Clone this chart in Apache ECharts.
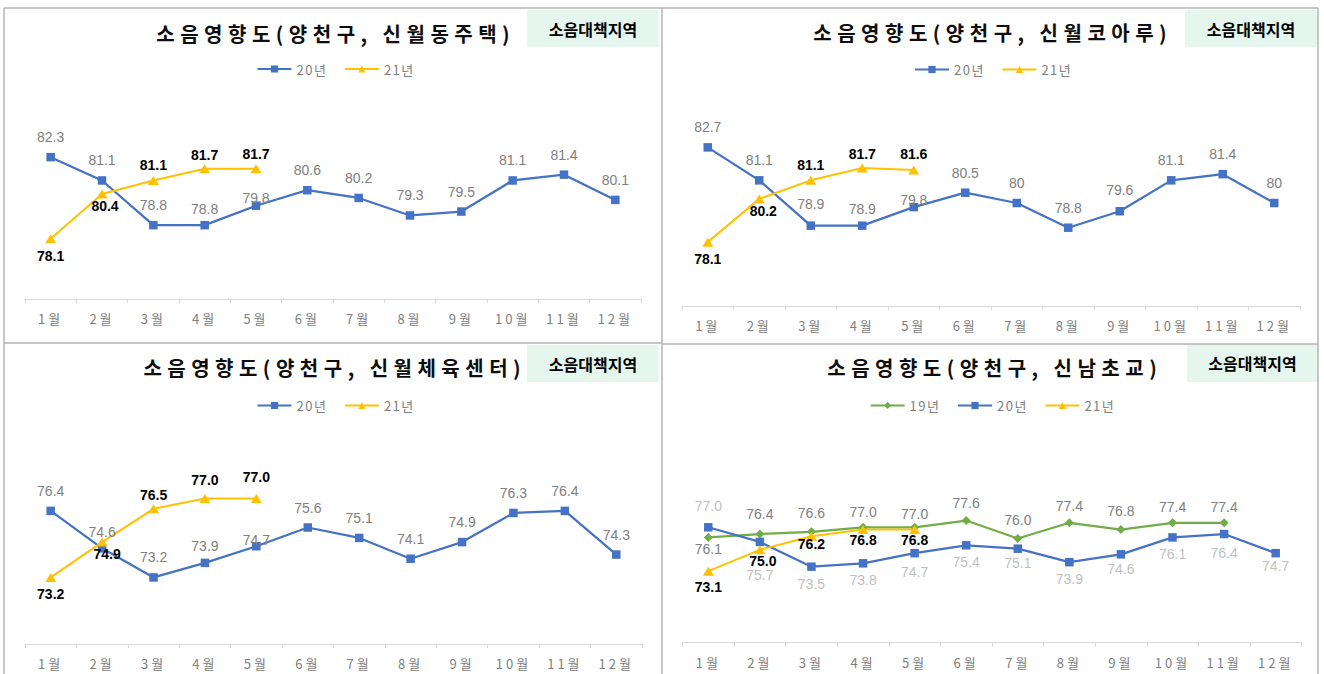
<!DOCTYPE html>
<html>
<head>
<meta charset="utf-8">
<script src="https://cdn.jsdelivr.net/npm/echarts@6/dist/echarts.min.js"></script>
<style>
html,body{margin:0;padding:0;background:#ffffff;}
#c{width:1324px;height:674px;}
</style>
</head>
<body>
<div id="c"></div>
<script>
// ---------- data ----------
const months = ['1월','2월','3월','4월','5월','6월','7월','8월','9월','10월','11월','12월'];
const titles = ['소음영향도(양천구, 신월동주택)','소음영향도(양천구, 신월코아루)','소음영향도(양천구, 신월체육센터)','소음영향도(양천구, 신남초교)'];
const zoneTag = '소음대책지역';
const yearNames = ['19년','20년','21년'];

const sinwoldong20 = [82.3,81.1,78.8,78.8,79.8,80.6,80.2,79.3,79.5,81.1,81.4,80.1];
const sinwoldong21 = [78.1,80.4,81.1,81.7,81.7];
const koaru20 = [82.7,81.1,78.9,78.9,79.8,80.5,80,78.8,79.6,81.1,81.4,80];
const koaru21 = [78.1,80.2,81.1,81.7,81.6];
const gym20 = [76.4,74.6,73.2,73.9,74.7,75.6,75.1,74.1,74.9,76.3,76.4,74.3];
const gym21 = [73.2,74.9,76.5,77.0,77.0];
const school19 = [76.1,76.4,76.6,77.0,77.0,77.6,76.0,77.4,76.8,77.4,77.4];
const school20 = [77.0,75.7,73.5,73.8,74.7,75.4,75.1,73.9,74.6,76.1,76.4,74.7];
const school21 = [73.1,75.0,76.2,76.8,76.8];

// ---------- styles ----------
const FONT_KR = '"Noto Sans CJK KR", "Noto Sans", sans-serif';
const FONT_NUM = '"Liberation Sans", Arial, sans-serif';
const TITLE_SPACING = 5.5;
const lineStyles = {
  '19년': {color:'#70ad47', symbol:'diamond', size:[9,9], width:2.25},
  '20년': {color:'#4472c4', symbol:'rect', size:8.5, width:2.25},
  '21년': {color:'#ffc000', symbol:'triangle', size:[11,9], width:2}
};
const fmtRaw = p => String(p.value);
const fmt1 = p => Number(p.value).toFixed(1);

// label offsets (px, relative to point centre) – styling only
const panels = [
  {
    title: titles[0], tx: 333, ty: 23,
    box: {x:527, y:10, w:132, h:37},
    legend: {left:256.5, top:62.5, names:[yearNames[1], yearNames[2]]},
    grid: {left:25, top:104.7, width:616, height:194.3},
    y: [75, 85],
    series: [
      {name:yearNames[1], data:sinwoldong20, color:'#808080', bold:false, fmt:fmt1,
       dy:[-20,-20,-20,-16,-8,-20,-20,-20,-20,-20,-20,-20]},
      {name:yearNames[2], data:sinwoldong21, color:'#000000', bold:true, fmt:fmt1,
       dy:[17,12,-15,-14,-15], dx:[0,3,0,0,0]}
    ]
  },
  {
    title: titles[1], tx: 990, ty: 22,
    box: {x:1185, y:10, w:132, h:37},
    legend: {left:914, top:63, names:[yearNames[1], yearNames[2]]},
    grid: {left:682, top:100, width:618, height:206},
    y: [75, 85],
    series: [
      {name:yearNames[1], data:koaru20, color:'#808080', bold:false, fmt:fmtRaw,
       dy:[-20,-20,-22,-17,-7,-20,-20,-20,-21,-20,-20,-20]},
      {name:yearNames[2], data:koaru21, color:'#000000', bold:true, fmt:fmt1,
       dy:[17,12,-15,-14,-16], dx:[0,4,0,0,0]}
    ]
  },
  {
    title: titles[2], tx: 332, ty: 357.5,
    box: {x:527, y:345, w:132, h:37},
    legend: {left:256.5, top:399, names:[yearNames[1], yearNames[2]]},
    grid: {left:25, top:436, width:617, height:208},
    y: [70, 80],
    series: [
      {name:yearNames[1], data:gym20, color:'#808080', bold:false, fmt:fmt1,
       dy:[-20,-16,-20,-17,-6,-20,-20,-20,-20,-20,-20,-20]},
      {name:yearNames[2], data:gym21, color:'#000000', bold:true, fmt:fmt1,
       dy:[17,12,-14,-18,-21], dx:[0,5,0,0,0]}
    ]
  },
  {
    title: titles[3], tx: 992, ty: 357.5,
    box: {x:1187, y:344, w:131, h:38},
    legend: {left:869.6, top:399, names:[yearNames[0], yearNames[1], yearNames[2]]},
    grid: {left:682.5, top:437.2, width:619, height:205.5},
    y: [66.75, 85],
    series: [
      {name:yearNames[0], data:school19, color:'#808080', bold:false, fmt:fmt1,
       dy:[12,-20,-19,-15,-13,-18,-19,-17,-19,-16,-16]},
      {name:yearNames[1], data:school20, color:'#bfbfbf', bold:false, fmt:fmt1,
       dy:[-21,33,17,17,19,17,14,17,15,17,19,13]},
      {name:yearNames[2], data:school21, color:'#000000', bold:true, fmt:fmt1,
       dy:[16,11,8,10,10], dx:[0,3,0,0,0]}
    ]
  }
];

// ---------- build option ----------
const option = {
  animation: false,
  backgroundColor: '#ffffff',
  title: [], legend: [], grid: [], xAxis: [], yAxis: [], series: [], graphic: []
};

panels.forEach((p, gi) => {
  option.title.push({
    text: p.title, left: p.tx + TITLE_SPACING / 2, top: p.ty, textAlign: 'center', padding: 0,
    textStyle: {fontSize: 20, fontWeight: 'bold', color: '#0d0d0d', fontFamily: FONT_KR, lineHeight: 20}
  });
  option.legend.push({
    data: p.legend.names, left: p.legend.left, top: p.legend.top, padding: 0,
    itemWidth: 34, itemHeight: 9, itemGap: 21, orient: 'horizontal',
    selectedMode: false,
    textStyle: {color: '#7f7f7f', fontSize: 13, fontFamily: FONT_KR, padding: [0,0,0,0]}
  });
  option.grid.push(Object.assign({containLabel: false}, p.grid));
  option.xAxis.push({
    type: 'category', gridIndex: gi, data: months, boundaryGap: true,
    axisLine: {show: true, lineStyle: {color: '#d9d9d9', width: 1}},
    axisTick: {show: true, length: 4, lineStyle: {color: '#d9d9d9'}},
    axisLabel: {color: '#808080', fontSize: 13, margin: 13, fontFamily: FONT_KR, interval: 0},
    splitLine: {show: false}
  });
  option.yAxis.push({
    type: 'value', gridIndex: gi, min: p.y[0], max: p.y[1], show: false,
    splitLine: {show: false}
  });
  p.series.forEach(s => {
    const st = lineStyles[s.name];
    option.series.push({
      type: 'line', name: s.name, xAxisIndex: gi, yAxisIndex: gi,
      data: s.data.map((v, i) => ({value: v, label: {offset: [s.dx ? s.dx[i] : 0, s.dy[i]]}})),
      symbol: st.symbol, symbolSize: st.size, showAllSymbol: true,
      itemStyle: {color: st.color},
      lineStyle: {color: st.color, width: st.width},
      emphasis: {disabled: true},
      label: {
        show: true, position: 'inside', formatter: s.fmt,
        color: s.color, fontSize: 14, fontWeight: s.bold ? 'bold' : 'normal',
        fontFamily: FONT_NUM, textBorderWidth: 0, textBorderColor: 'transparent'
      }
    });
  });
  // tag box
  option.graphic.push({
    type: 'rect', shape: {x: p.box.x, y: p.box.y, width: p.box.w, height: p.box.h},
    style: {fill: '#e4f6ed'}, silent: true, z: 1
  });
  option.graphic.push({
    type: 'text', silent: true, z: 2,
    style: {
      text: zoneTag, x: p.box.x + p.box.w / 2, y: p.box.y + p.box.h / 2,
      align: 'center', verticalAlign: 'middle', textAlign: 'center', textVerticalAlign: 'middle',
      font: 'bold 16px ' + FONT_KR, fill: '#000000'
    }
  });
});

// panel borders
const borderStyle = {stroke: '#b4b4b4', lineWidth: 1.5};
[
  [4, 8, 1318, 8], [4, 8, 4, 674], [1318, 8, 1318, 674], [662, 8, 662, 674],
  [4, 343, 662, 343], [662, 344, 1318, 344]
].forEach(l => option.graphic.push({
  type: 'line', silent: true, z: 3,
  shape: {x1: l[0], y1: l[1], x2: l[2], y2: l[3]}, style: borderStyle
}));

const chart = echarts.init(document.getElementById('c'), null, {renderer: 'svg', width: 1324, height: 674});
chart.setOption(option);

function applySpacing() {
  document.querySelectorAll('#c svg text').forEach(t => {
    const s = t.textContent || '';
    if (s.indexOf('소음영향도') === 0) t.style.letterSpacing = TITLE_SPACING + 'px';
    else if (/^\d+월$/.test(s)) t.style.letterSpacing = '3px';
    else if (/^\d+년$/.test(s)) t.style.letterSpacing = '1.5px';
  });
}
chart.on('finished', applySpacing);
applySpacing();
requestAnimationFrame(applySpacing);
setTimeout(applySpacing, 50);
setTimeout(applySpacing, 200);
setTimeout(applySpacing, 600);
</script>
</body>
</html>
